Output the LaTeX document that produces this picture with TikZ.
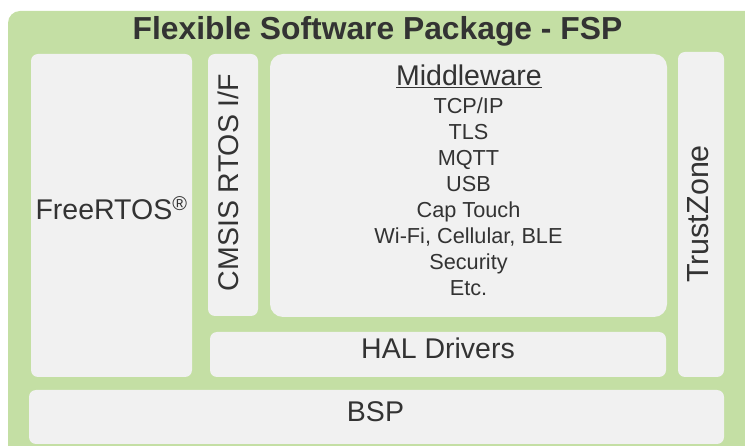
\documentclass[tikz,border=0pt]{standalone}
\usepackage{fontspec}
\setmainfont{Liberation Sans}
\definecolor{fspgreen}{HTML}{C4DFA4}
\definecolor{laaggrijs}{HTML}{F1F1F1}
\definecolor{inkt}{HTML}{333333}

\tikzset{
  laag/.style={fill=laaggrijs, rounded corners=7pt, inner sep=0pt},
  tekst/.style={text=inkt, inner sep=0pt, anchor=base, font=\fontsize{28.5}{32}\selectfont},
  item/.style={tekst, font=\fontsize{21.7}{26}\selectfont},
}

\begin{document}
\begin{tikzpicture}[x=1pt,y=-1pt]
        \useasboundingbox (0,0) rectangle (745,446);
        % achtergrond
        \fill [fspgreen, rounded corners=12pt] (8,11) rectangle (757,458);
        \node [tekst, font=\fontsize{31.8}{36}\selectfont\bfseries] (titel) at (377.5,39.6) {Flexible Software Package - FSP};
        % lagen
        \node [laag, minimum width=161pt, minimum height=323pt] (freertos) at (111.5,215.5) {};
        \node [laag, minimum width=50pt, minimum height=262pt] (cmsis) at (233,185) {};
        \node [laag, rounded corners=13pt, minimum width=397pt, minimum height=263pt] (middleware) at (468.5,185.5) {};
        \node [laag, minimum width=46pt, minimum height=325pt] (trustzone) at (701,214.5) {};
        \node [laag, minimum width=456pt, minimum height=45pt] (hal) at (438,354.5) {};
        \node [laag, minimum width=695pt, minimum height=54pt] (bsp) at (376.5,417) {};
        % teksten
        \node [tekst] (freertostxt) at (111.5,219.3) {FreeRTOS\textsuperscript{\textregistered}};
        \node [tekst, rotate=90] (cmsistxt) at (238,182.5) {CMSIS RTOS I/F};
        \node [tekst, rotate=90, font=\fontsize{30.5}{34}\selectfont] (trustzonetxt) at (708,214) {TrustZone};
        \node [tekst] (haltxt) at (438,358.3) {HAL Drivers};
        \node [tekst] (bsptxt) at (375.5,421.7) {BSP};
        \node [tekst] (mwtitel) at (469,85.7) {\underline{Middleware}};
        \foreach \t [count=\i] in {TCP/IP, TLS, MQTT, USB, Cap Touch, {Wi-Fi, Cellular, BLE}, Security, Etc.}
            \node [item] (mw\i) at (468.5,{114+25.9*(\i-1)}) {\t};
    \end{tikzpicture}
\end{document}
